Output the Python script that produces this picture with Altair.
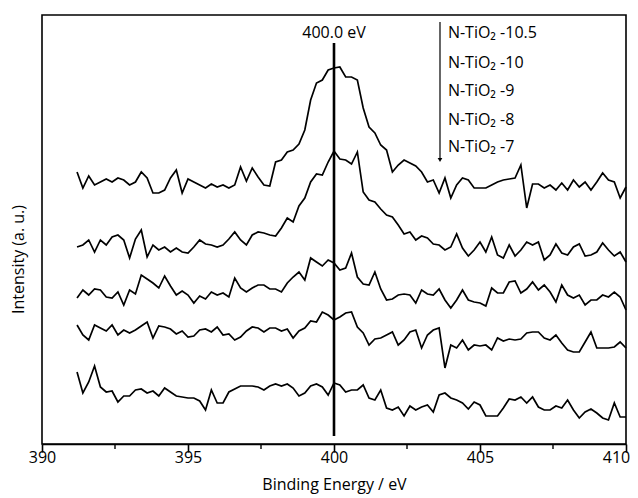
import altair as alt
import pandas as pd

# Binding energy grid (eV)
energy = [391.2, 391.4, 391.6, 391.8, 392.0, 392.2, 392.4, 392.6, 392.8, 393.0,
          393.2, 393.4, 393.6, 393.8, 394.0, 394.2, 394.4, 394.6, 394.8, 395.0,
          395.2, 395.4, 395.6, 395.8, 396.0, 396.2, 396.4, 396.6, 396.8, 397.0,
          397.2, 397.4, 397.6, 397.8, 398.0, 398.2, 398.4, 398.6, 398.8, 399.0,
          399.2, 399.4, 399.6, 399.8, 400.0, 400.2, 400.4, 400.6, 400.8, 401.0,
          401.2, 401.4, 401.6, 401.8, 402.0, 402.2, 402.4, 402.6, 402.8, 403.0,
          403.2, 403.4, 403.6, 403.8, 404.0, 404.2, 404.4, 404.6, 404.8, 405.0,
          405.2, 405.4, 405.6, 405.8, 406.0, 406.2, 406.4, 406.6, 406.8, 407.0,
          407.2, 407.4, 407.6, 407.8, 408.0, 408.2, 408.4, 408.6, 408.8, 409.0,
          409.2, 409.4, 409.6, 409.8, 410.0]

samples = ["N-TiO\u2082 -10.5", "N-TiO\u2082 -10", "N-TiO\u2082 -9", "N-TiO\u2082 -8", "N-TiO\u2082 -7"]

# Intensities (a. u., stacked with offsets)
s_105 = [272, 256, 268, 259, 262, 265, 262, 266, 264, 259,
         262, 272, 266, 251, 251, 254, 266, 274, 251, 265,
         262, 259, 256, 260, 257, 259, 256, 259, 277, 263,
         276, 267, 259, 258, 282, 284, 292, 294, 300, 314,
         344, 361, 364, 374, 376, 377, 367, 367, 364, 336,
         317, 311, 299, 294, 272, 279, 284, 281, 278, 272,
         262, 264, 251, 266, 246, 259, 266, 264, 256, 256,
         256, 259, 262, 264, 265, 266, 279, 236, 260, 260,
         256, 259, 254, 261, 254, 264, 257, 262, 254, 262,
         271, 264, 262, 246, 257]
s_10 = [197, 199, 204, 192, 204, 199, 207, 209, 204, 186,
        205, 214, 187, 199, 194, 197, 192, 196, 192, 191,
        197, 204, 200, 199, 197, 199, 205, 212, 204, 199,
        209, 212, 211, 209, 208, 216, 226, 222, 238, 246,
        262, 270, 269, 282, 293, 285, 284, 280, 292, 252,
        244, 242, 235, 229, 227, 219, 210, 212, 204, 208,
        206, 200, 199, 194, 197, 210, 196, 188, 194, 202,
        192, 207, 189, 186, 199, 188, 194, 202, 199, 202,
        184, 189, 200, 191, 189, 197, 200, 188, 189, 192,
        201, 194, 188, 192, 182]
s_9 = [146, 154, 149, 155, 154, 147, 146, 152, 139, 154,
       150, 169, 165, 161, 156, 168, 158, 149, 153, 149,
       141, 148, 145, 152, 149, 151, 147, 166, 156, 152,
       156, 159, 159, 155, 155, 152, 161, 167, 172, 164,
       186, 182, 178, 184, 181, 174, 176, 191, 167, 160,
       159, 172, 155, 144, 145, 149, 150, 149, 141, 154,
       150, 149, 155, 144, 136, 144, 154, 144, 142, 141,
       138, 156, 151, 151, 162, 163, 151, 155, 162, 154,
       159, 152, 142, 159, 149, 146, 149, 139, 144, 144,
       149, 147, 152, 147, 134]
s_8 = [119, 109, 104, 119, 116, 113, 119, 109, 114, 111,
       114, 118, 122, 106, 118, 117, 115, 110, 113, 107,
       108, 114, 115, 112, 117, 109, 110, 104, 107, 113,
       117, 116, 112, 116, 116, 113, 115, 106, 113, 116,
       123, 122, 132, 129, 124, 127, 131, 132, 117, 111,
       99, 105, 106, 109, 112, 99, 104, 112, 114, 96,
       109, 114, 116, 76, 99, 96, 104, 94, 99, 98,
       99, 94, 106, 103, 105, 104, 105, 111, 112, 112,
       106, 104, 109, 101, 94, 92, 92, 102, 112, 96,
       96, 96, 97, 102, 96]
s_7 = [72, 51, 62, 78, 57, 52, 53, 42, 48, 48,
       54, 55, 51, 53, 48, 56, 52, 48, 47, 46,
       46, 43, 34, 54, 41, 41, 52, 55, 58, 58,
       58, 57, 54, 58, 60, 58, 60, 56, 48, 51,
       58, 60, 57, 49, 61, 59, 52, 54, 54, 59,
       46, 44, 54, 36, 34, 37, 28, 38, 34, 37,
       39, 32, 49, 51, 46, 44, 41, 35, 42, 39,
       28, 28, 28, 36, 45, 44, 47, 41, 47, 37,
       34, 34, 38, 36, 44, 34, 26, 32, 35, 31,
       26, 24, 41, 27, 27]
series = [s_105, s_10, s_9, s_8, s_7]

major_ticks = [390, 395, 400, 405, 410]
minor_ticks = [392.5, 397.5, 402.5, 407.5]

rows = []
for name, vals in zip(samples, series):
    for e, v in zip(energy, vals):
        rows.append({"energy": e, "intensity": v, "sample": name})
df = pd.DataFrame(rows)

FONT = "Open Sans"
xs = alt.Scale(domain=[390, 410], nice=False, zero=False)
ys = alt.Scale(domain=[0, 429], nice=False, zero=False)

lines = alt.Chart(df).mark_line(color="black", strokeWidth=1.7).encode(
    x=alt.X("energy:Q", scale=xs,
            axis=alt.Axis(values=major_ticks, tickSize=8, tickWidth=1.6,
                          domainWidth=1.6, labelFontSize=16, labelFont=FONT,
                          labelPadding=-3, labelColor="black", grid=False,
                          labelFlush=False, labelOverlap=False,
                          labelOffset={"condition": {"test": "datum.value >= 410", "value": -10},
                                       "value": 0},
                          title="Binding Energy / eV", titleFont=FONT,
                          titleFontSize=16, titleFontWeight="normal",
                          titlePadding=11, titleColor="black", format="d")),
    y=alt.Y("intensity:Q", scale=ys,
            axis=alt.Axis(labels=False, ticks=False, domain=False, grid=False,
                          title="Intensity (a. u.)", titleFont=FONT,
                          titleFontSize=16, titleFontWeight="normal",
                          titleColor="black", titleX=-24, titleY=244,
                          titleAngle=270, titleAlign="center",
                          titleBaseline="middle")),
    detail="sample:N",
)

ref_df = pd.DataFrame({"energy": [400.0], "intensity": [8], "intensity2": [401]})
ref_line = alt.Chart(ref_df).mark_rule(color="black", strokeWidth=2.6).encode(
    x="energy:Q", y="intensity:Q", y2="intensity2:Q")

ref_label = alt.Chart(pd.DataFrame({"energy": [400.0], "intensity": [411], "label": ["400.0 eV"]})).mark_text(
    font=FONT, fontSize=16, align="center", baseline="middle", color="black").encode(
    x="energy:Q", y="intensity:Q", text="label:N")

arrow_df = pd.DataFrame({"energy": [403.63], "intensity": [422], "intensity2": [286]})
arrow_line = alt.Chart(arrow_df).mark_rule(color="black", strokeWidth=1.2).encode(
    x="energy:Q", y="intensity:Q", y2="intensity2:Q")
arrow_head = alt.Chart(pd.DataFrame({"energy": [403.63], "intensity": [284]})).mark_point(
    shape="triangle-down", filled=True, size=22, color="black", opacity=1).encode(
    x="energy:Q", y="intensity:Q")

legend_df = pd.DataFrame({"energy": [403.9] * 5,
                          "intensity": [411, 381, 353, 324, 297],
                          "label": samples})
legend_text = alt.Chart(legend_df).mark_text(
    font=FONT, fontSize=16, align="left", baseline="middle", color="black").encode(
    x="energy:Q", y="intensity:Q", text="label:N")

minor = alt.Chart(pd.DataFrame({"energy": minor_ticks})).mark_rule(
    color="black", strokeWidth=1.4).encode(
    x="energy:Q", y=alt.value(429), y2=alt.value(434))

chart = alt.layer(lines, ref_line, ref_label, arrow_line, arrow_head, legend_text, minor).properties(
    width=584, height=429,
    autosize=alt.AutoSizeParams(type="none"),
    padding={"left": 34, "top": 7, "right": 4, "bottom": 50},
).configure_view(stroke="black", strokeWidth=1.6).configure_axis(
    domainColor="black", tickColor="black")

chart.save("out.html", embed_options={"renderer": "svg", "actions": False})
